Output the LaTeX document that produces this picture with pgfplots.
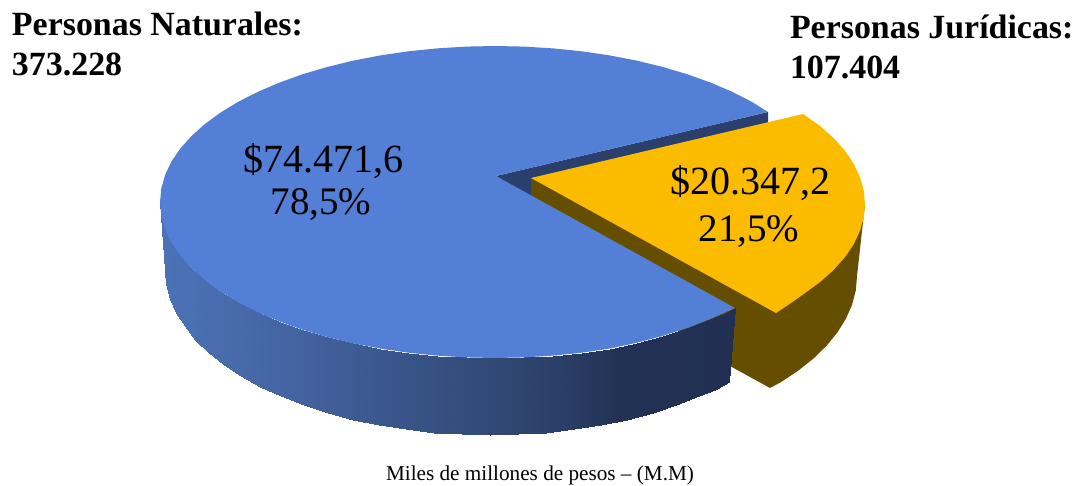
\documentclass[border=0pt]{standalone}
\usepackage{fontspec}
\setmainfont{Liberation Serif}
\usepackage{pgfplots}
\pgfplotsset{compat=1.18}

\definecolor{topblue}{HTML}{547FD6}
\definecolor{wallblue}{HTML}{2A3F6B}
\definecolor{pieyellow}{HTML}{FBBC00}
\definecolor{piebrown}{HTML}{664E00}

\tikzset{
    head/.style={anchor=base west, inner sep=0pt, outer sep=0pt, font=\fontsize{33.9}{34}\selectfont\bfseries},
    val/.style={anchor=base, inner sep=0pt, outer sep=0pt, font=\fontsize{#1}{#1}\selectfont}
}

\begin{document}
\begin{tikzpicture}
\begin{axis}[
    scale only axis,
    width=1075pt, height=483pt,
    xmin=0, xmax=1075, ymin=0, ymax=483,
    y dir=reverse,
    hide axis,
    clip=false,
    colormap={side}{
        rgb255(0pt)=(76,114,183);
        rgb255(15pt)=(75,113,181);
        rgb255(140pt)=(67,99,160);
        rgb255(280pt)=(53,79,128);
        rgb255(340pt)=(49,72,116);
        rgb255(400pt)=(42,63,104);
        rgb255(460pt)=(34,50,84);
        rgb255(575pt)=(33,48,82)
    },
    point meta min=160, point meta max=735
]
% page background, keeps the picture at full size
\addplot[fill=white, draw=none] coordinates {(0,0) (1075,0) (1075,483) (0,483)} -- cycle;

% inner wall of the blue slice
\addplot[fill=wallblue, draw=none] coordinates {(496,176) (768,112) (768,135) (531,200)} -- cycle;

% side of the yellow slice
\addplot[fill=piebrown, draw=none] coordinates {
    (531,178) (865,204) (857,276) (855.8,290.4) (852.1,304.7) (845.9,318.7)
    (837.4,332.4) (826.6,345.7) (813.5,358.5) (798.2,370.6) (781,382.1)
    (770,388) (700,349.5) (531,195)
} -- cycle;

% top of the yellow slice
\addplot[fill=pieyellow, draw=none] coordinates {
    (531,178) (803,114) (820.1,126) (833.6,138.1) (844.8,150.6) (853.6,163.6)
    (859.9,176.9) (863.7,190.4) (865,204) (863.7,217.6) (859.9,231.1)
    (853.6,244.4) (844.8,257.4) (833.6,269.9) (820.1,282) (804.4,293.5)
    (789.6,304) (776,313)
} -- cycle;

% side of the blue slice, shaded left to right
\addplot[surf, shader=interp, mesh/cols=2, point meta=explicit]
table[x=x, y=y, meta=m] {
x y m
160 202 160
165 270 160
161.3 215.6 161
166.2 284.4 166
165.1 229.1 165
169.9 298.7 170
171.4 242.4 171
176.1 312.7 176
180.2 255.4 180
184.6 326.4 185
191.4 267.9 191
195.4 339.7 195
204.9 280 205
208.5 352.5 208
220.6 291.5 221
223.8 364.6 224
238.4 302.3 238
241 376.1 241
258.1 312.3 258
260.2 386.7 260
279.7 321.5 280
281.1 396.4 281
302.8 329.8 303
303.6 405.2 304
327.5 337.1 327
327.5 412.9 327
353.4 343.4 353
352.6 419.5 353
380.4 348.6 380
378.8 425 379
408.3 352.7 408
405.9 429.4 406
436.8 355.6 437
433.6 432.5 434
465.8 357.4 466
461.7 434.4 462
495 358 495
490 435 490
524.2 357.4 524
518.3 434.4 518
553.2 355.6 553
546.4 432.5 546
581.7 352.7 582
574.1 429.4 574
609.6 348.6 610
601.2 425 601
636.6 342.8 637
627.4 419.5 627
662.5 336 662
652.5 412.9 652
687.2 328 687
676.4 405.2 676
710.3 319 710
698.9 396.4 699
722.7 313.5 723
714.5 389.5 714
735 308 735
729 382 729
};

% top of the blue slice
\addplot[fill=topblue, draw=none] coordinates {
    (496,176) (768,112) (751.6,101.7) (731.9,91.7) (710.3,82.5) (687.2,74.2)
    (662.5,66.9) (636.6,60.6) (609.6,55.4) (581.7,51.3) (553.2,48.4) (524.2,46.6)
    (495,46) (465.8,46.6) (436.8,48.4) (408.3,51.3) (380.4,55.4) (353.4,60.6)
    (327.5,66.9) (302.8,74.2) (279.7,82.5) (258.1,91.7) (238.4,101.7) (220.6,112.5)
    (204.9,124) (191.4,136.1) (180.2,148.6) (171.4,161.6) (165.1,174.9) (161.3,188.4)
    (160,202) (161.3,215.6) (165.1,229.1) (171.4,242.4) (180.2,255.4) (191.4,267.9)
    (204.9,280) (220.6,291.5) (238.4,302.3) (258.1,312.3) (279.7,321.5) (302.8,329.8)
    (327.5,337.1) (353.4,343.4) (380.4,348.6) (408.3,352.7) (436.8,355.6) (465.8,357.4)
    (495,358) (524.2,357.4) (553.2,355.6) (581.7,352.7) (609.6,348.6) (636.6,342.8)
    (662.5,336) (687.2,328) (710.3,319) (735,308)
} -- cycle;

\node[head] at (axis cs:12,36) {Personas Naturales:};
\node[head] at (axis cs:12,75) {373.228};
\node[head] at (axis cs:790,38) {Personas Jurídicas:};
\node[head] at (axis cs:790,78) {107.404};

\node[val=40] at (axis cs:323.5,172) {\$74.471,6};
\node[val=39] at (axis cs:321,214) {78,5\%};
\node[val=40] at (axis cs:750.5,194) {\$20.347,2};
\node[val=39] at (axis cs:749,241) {21,5\%};

\node[val=21.2] at (axis cs:540,480.5) {Miles de millones de pesos – (M.M)};
\end{axis}
\end{tikzpicture}
\end{document}
